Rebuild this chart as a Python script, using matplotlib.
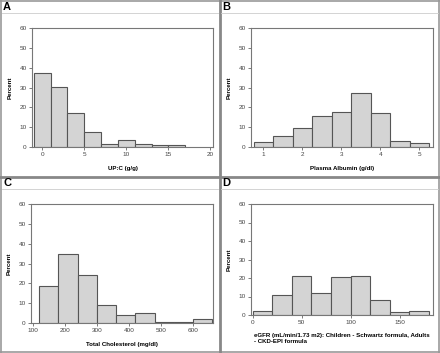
import numpy as np
import matplotlib
matplotlib.use('Agg')
import matplotlib.pyplot as plt
from matplotlib.lines import Line2D

plt.rcParams['font.family'] = ['Liberation Sans', 'DejaVu Sans']

# histogram data (bin left edges, bin width, percent)
upc_edges = [-1, 1, 3, 5, 7, 9, 11, 13, 15]
upc_pct = [37.5, 30.5, 17, 7.5, 1.5, 3.5, 1.5, 1, 1]
alb_edges = [0.75, 1.25, 1.75, 2.25, 2.75, 3.25, 3.75, 4.25, 4.75]
alb_pct = [2.5, 5.5, 9.5, 15.5, 17.5, 27, 17, 3, 2]
chol_edges = [120, 180, 240, 300, 360, 420, 480, 540, 600]
chol_pct = [18.5, 35, 24, 9, 4, 5, 0.6, 0.6, 2]
egfr_edges = [0, 20, 40, 60, 80, 100, 120, 140, 160]
egfr_pct = [2, 11, 21, 12, 20.5, 21, 8, 1.5, 2]

W, H = 440, 353
fig = plt.figure(figsize=(W / 100, H / 100), dpi=100)
fig.patch.set_facecolor('white')


def px_axes(x0, y0, x1, y1):
    return fig.add_axes([x0 / W, 1 - y1 / H, (x1 - x0) / W, (y1 - y0) / H])


def hline(y, x0, x1, color, lw=1.0, ls='-'):
    fig.add_artist(Line2D([x0 / W, x1 / W], [1 - y / H, 1 - y / H],
                          transform=fig.transFigure, color=color, lw=lw, ls=ls))


def vline(x, y0, y1, color, lw=1.0):
    fig.add_artist(Line2D([x / W, x / W], [1 - y0 / H, 1 - y1 / H],
                          transform=fig.transFigure, color=color, lw=lw))


def hist_panel(ax, edges, pct, width, xlim, xticks, xlabel):
    ax.bar(edges, pct, width=width, align='edge', color='#d4d4d4',
           edgecolor='#555555', linewidth=0.8)
    ax.set_xlim(*xlim)
    ax.set_ylim(0, 60)
    ax.set_yticks(range(0, 61, 10))
    ax.set_xticks(xticks)
    for s in ax.spines.values():
        s.set_color('#777777')
        s.set_linewidth(0.8)
    ax.tick_params(labelsize=4.6, colors='#666666', labelcolor='#444444',
                   length=2, width=0.6, pad=1.8)
    ax.set_ylabel('Percent', fontsize=4.4, fontweight='bold', labelpad=5)
    if xlabel:
        ax.set_xlabel(xlabel, fontsize=4.4, fontweight='bold', labelpad=6)


axA = px_axes(32, 28, 213, 147)
hist_panel(axA, upc_edges, upc_pct, 2, (-1.2, 20.3), [0, 5, 10, 15, 20], 'UP:C (g/g)')
axB = px_axes(251, 28, 433, 147)
hist_panel(axB, alb_edges, alb_pct, 0.5, (0.68, 5.35), [1, 2, 3, 4, 5], 'Plasma Albumin (g/dl)')
axC = px_axes(31, 204, 213, 323)
hist_panel(axC, chol_edges, chol_pct, 60, (95, 662), [100, 200, 300, 400, 500, 600],
           'Total Cholesterol (mg/dl)')
axD = px_axes(251, 204, 433, 315)
hist_panel(axD, egfr_edges, egfr_pct, 20, (-1.7, 184), [0, 50, 100, 150], None)
axD.text(0.015, -0.16, 'eGFR (mL/min/1.73 m2): Children - Schwartz formula, Adults\n- CKD-EPI formula',
         transform=axD.transAxes, ha='left', va='top', fontsize=4.4, fontweight='bold',
         linespacing=1.35)

# panel frames and header strips
hline(1, 0, W, '#999999', 1.2)
hline(H - 1, 0, W, '#999999', 1.2)
vline(1, 0, H, '#999999', 1.2)
vline(W - 1, 0, H, '#999999', 1.2)
hline(176.5, 0, W, '#888888', 2.0)
vline(219.5, 0, H, '#888888', 2.0)
hline(13, 2, 218, '#cccccc', 0.6)
hline(13, 221, 438, '#cccccc', 0.6)
hline(189, 2, 218, '#cccccc', 0.6)
hline(189, 221, 438, '#cccccc', 0.6)

for lab, x, y in [('A', 3, 2), ('B', 222, 2), ('C', 3, 178), ('D', 222, 178)]:
    fig.text(x / W, 1 - y / H, lab, ha='left', va='top', fontsize=8, fontweight='bold')

fig.savefig('out.png', dpi=100)
